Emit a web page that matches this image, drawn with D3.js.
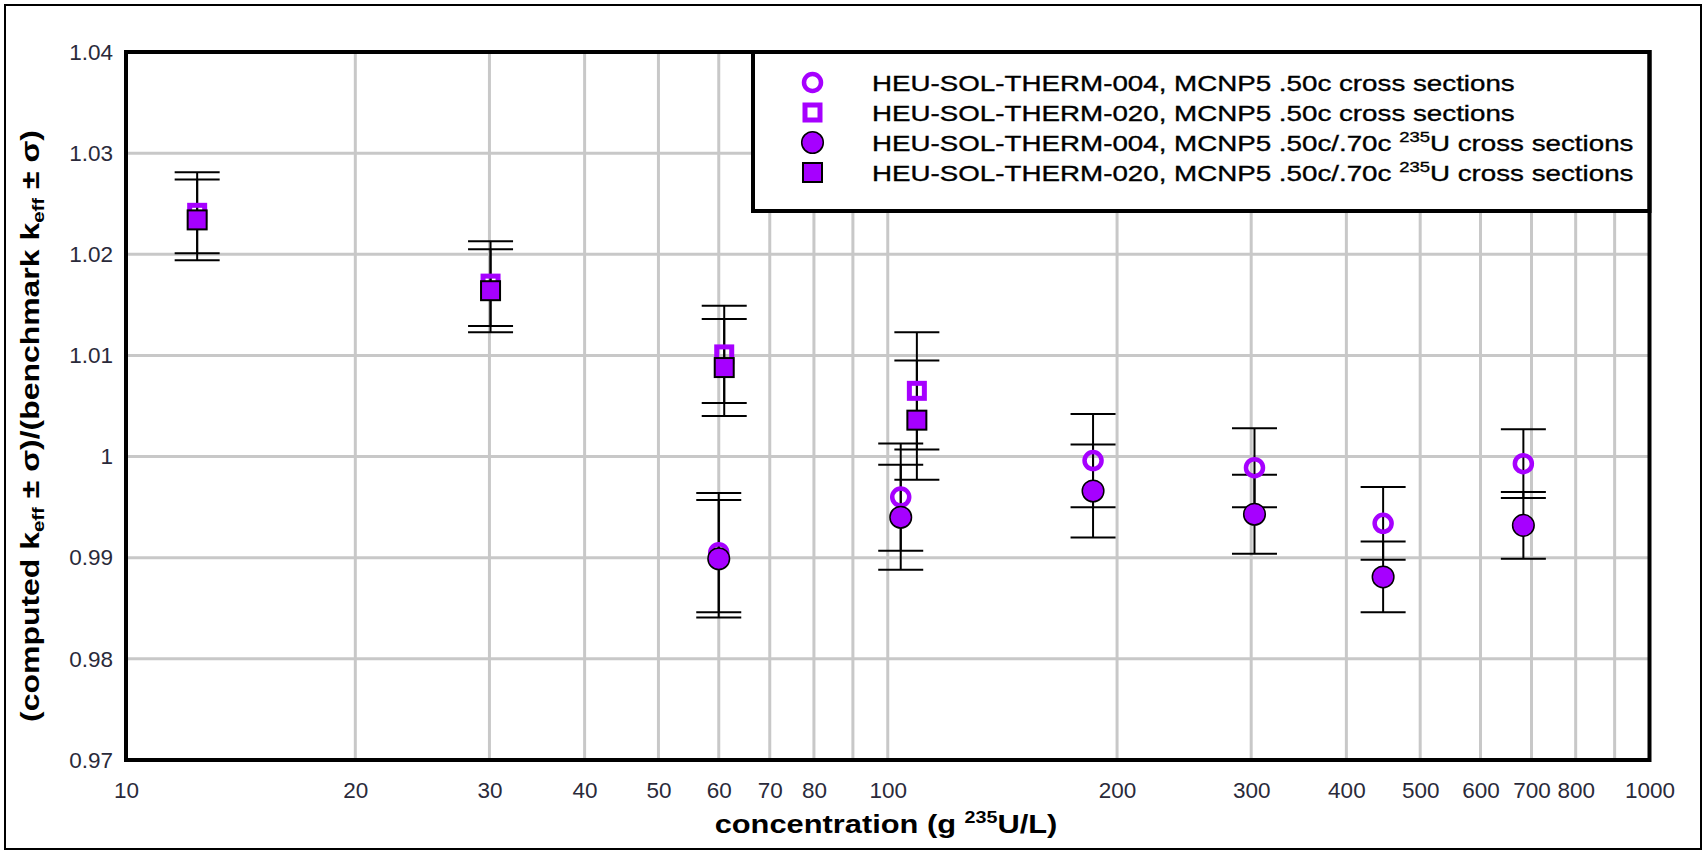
<!DOCTYPE html>
<html>
<head>
<meta charset="utf-8">
<script src="https://cdn.jsdelivr.net/npm/d3@7"></script>
<style>
  body { margin: 0; background: #fff; }
  svg { display: block; font-family: "Liberation Sans", Arial, sans-serif; }
</style>
</head>
<body>
<svg id="chart" width="1705" height="853"></svg>
<script>
// Concentrations (g 235U/L) of the benchmark cases
const conc004 = [60, 104, 186, 303, 447, 683];
const conc020 = [12.4, 30.1, 61.0, 109.2];

// keff ratio and its uncertainty, per series
const keff004_50c = [0.9905, 0.9960, 0.9996, 0.9989, 0.9934, 0.9993];
const sig004_50c  = [0.0059, 0.0053, 0.0046, 0.0039, 0.0036, 0.0034];
const keff020_50c = [1.0241, 1.0171, 1.0101, 1.0065];
const sig020_50c  = [0.0040, 0.0042, 0.0048, 0.0058];
const keff004_70c = [0.9899, 0.9940, 0.9966, 0.9943, 0.9881, 0.9932];
const sig004_70c  = [0.0058, 0.0052, 0.0046, 0.0039, 0.0035, 0.0033];
const keff020_70c = [1.0234, 1.0164, 1.0088, 1.0036];
const sig020_70c  = [0.0040, 0.0041, 0.0048, 0.0059];

// Axis ticks
const xTickValues = [10, 20, 30, 40, 50, 60, 70, 80, 100, 200, 300, 400, 500, 600, 700, 800, 1000];
const xGridValues = [20, 30, 40, 50, 60, 70, 80, 90, 100, 200, 300, 400, 500, 600, 700, 800, 900];
const yTickValues = [0.97, 0.98, 0.99, 1.00, 1.01, 1.02, 1.03, 1.04];

// Legend entries: [main text, superscript, tail]
const legendNames = [
  ["HEU-SOL-THERM-004, MCNP5 .50c cross sections", "", ""],
  ["HEU-SOL-THERM-020, MCNP5 .50c cross sections", "", ""],
  ["HEU-SOL-THERM-004, MCNP5 .50c/.70c ", "235", "U cross sections"],
  ["HEU-SOL-THERM-020, MCNP5 .50c/.70c ", "235", "U cross sections"]
];
const legendShapes = ["openCircle", "openSquare", "filledCircle", "filledSquare"];

const purple = "#a600ff";
const svg = d3.select("#chart");

// Outer frame of the figure
svg.append("rect").attr("x", 5).attr("y", 5).attr("width", 1696).attr("height", 844)
  .attr("fill", "none").attr("stroke", "#000").attr("stroke-width", 2);

const plot = { left: 126, right: 1649.5, top: 52, bottom: 760 };
const x = d3.scaleLog().domain([10, 1000]).range([plot.left, plot.right]);
const y = d3.scaleLinear().domain([0.97, 1.04]).range([plot.bottom, plot.top]);

// Grid
const grid = svg.append("g").attr("stroke", "#c8c8c8").attr("stroke-width", 3);
grid.selectAll("line.v").data(xGridValues).join("line").attr("class", "v")
  .attr("x1", d => x(d)).attr("x2", d => x(d)).attr("y1", plot.top).attr("y2", plot.bottom);
grid.selectAll("line.h").data(yTickValues.slice(1, -1)).join("line").attr("class", "h")
  .attr("y1", d => y(d)).attr("y2", d => y(d)).attr("x1", plot.left).attr("x2", plot.right);

// Axes (labels only)
const xAxis = svg.append("g").attr("transform", `translate(0,${plot.bottom})`)
  .call(d3.axisBottom(x).tickValues(xTickValues).tickFormat(d3.format("d")).tickSize(0).tickPadding(22));
const yAxis = svg.append("g").attr("transform", `translate(${plot.left},0)`)
  .call(d3.axisLeft(y).tickValues(yTickValues).tickFormat(d => String(+d.toFixed(2))).tickSize(0).tickPadding(13));
[xAxis, yAxis].forEach(a => {
  a.select(".domain").remove();
  a.selectAll("text").attr("font-size", 22.5).attr("fill", "#2a2a3a")
    .attr("font-family", "'Liberation Sans', Arial, sans-serif");
});

// Series definitions
const series = [
  { xs: conc004, ys: keff004_50c, sig: sig004_50c, shape: "openCircle" },
  { xs: conc020, ys: keff020_50c, sig: sig020_50c, shape: "openSquare" },
  { xs: conc004, ys: keff004_70c, sig: sig004_70c, shape: "filledCircle" },
  { xs: conc020, ys: keff020_70c, sig: sig020_70c, shape: "filledSquare" }
];

function drawMarker(g, shape, cx, cy) {
  if (shape === "openCircle") {
    g.append("circle").attr("cx", cx).attr("cy", cy).attr("r", 8.5)
      .attr("fill", "none").attr("stroke", purple).attr("stroke-width", 4.5);
  } else if (shape === "openSquare") {
    g.append("rect").attr("x", cx - 7.5).attr("y", cy - 7.5).attr("width", 15).attr("height", 15)
      .attr("fill", "none").attr("stroke", purple).attr("stroke-width", 5);
  } else if (shape === "filledCircle") {
    g.append("circle").attr("cx", cx).attr("cy", cy).attr("r", 10.8)
      .attr("fill", purple).attr("stroke", "#000").attr("stroke-width", 1.5);
  } else {
    g.append("rect").attr("x", cx - 9.5).attr("y", cy - 9.5).attr("width", 19).attr("height", 19)
      .attr("fill", purple).attr("stroke", "#000").attr("stroke-width", 2);
  }
}

// Error bars
const bars = svg.append("g").attr("stroke", "#000").attr("stroke-width", 2);
const capHalf = 22.5;
series.forEach(s => {
  s.xs.forEach((c, i) => {
    const cx = x(c), hi = y(s.ys[i] + s.sig[i]), lo = y(s.ys[i] - s.sig[i]);
    bars.append("line").attr("x1", cx).attr("x2", cx).attr("y1", hi).attr("y2", lo);
    bars.append("line").attr("x1", cx - capHalf).attr("x2", cx + capHalf).attr("y1", hi).attr("y2", hi);
    bars.append("line").attr("x1", cx - capHalf).attr("x2", cx + capHalf).attr("y1", lo).attr("y2", lo);
  });
});

// Markers: open symbols first, filled on top
const marks = svg.append("g");
series.forEach(s => {
  s.xs.forEach((c, i) => drawMarker(marks, s.shape, x(c), y(s.ys[i])));
});

// Legend
const legBox = { x: 753, y: plot.top, w: plot.right - 753, h: 211 - plot.top };
svg.append("rect").attr("x", legBox.x).attr("y", legBox.y).attr("width", legBox.w).attr("height", legBox.h)
  .attr("fill", "#fff").attr("stroke", "#000").attr("stroke-width", 4);
const leg = svg.append("g");
const rowY = [82.5, 112.5, 142.5, 172.5];
legendShapes.forEach((sh, i) => drawMarker(leg, sh, 812.5, rowY[i]));
const legTexts = legendNames.map((n, i) => {
  const t = leg.append("text").attr("font-size", 22.5).attr("fill", "#000")
    .attr("stroke", "#000").attr("stroke-width", 0.35);
  t.append("tspan").text(n[0]);
  if (n[1]) {
    t.append("tspan").attr("font-size", 15).attr("dy", -9).text(n[1]);
    t.append("tspan").attr("dy", 9).text(n[2]);
  }
  return t;
});
const legScale = 643 / legTexts[0].node().getComputedTextLength();
legTexts.forEach((t, i) => t.attr("transform", `translate(872,${rowY[i] + 8}) scale(${legScale},1)`));

// Plot frame
svg.append("rect").attr("x", plot.left).attr("y", plot.top)
  .attr("width", plot.right - plot.left).attr("height", plot.bottom - plot.top)
  .attr("fill", "none").attr("stroke", "#000").attr("stroke-width", 4);

// X axis title
const xt = svg.append("text").attr("font-size", 25).attr("font-weight", "bold").attr("text-anchor", "middle");
xt.append("tspan").text("concentration (g ");
xt.append("tspan").attr("font-size", 16).attr("dy", -10).text("235");
xt.append("tspan").attr("dy", 10).text("U/L)");
const xtScale = 343 / xt.node().getComputedTextLength();
xt.attr("transform", `translate(886,833) scale(${xtScale},1)`);

// Y axis title
const yt = svg.append("text").attr("font-size", 25).attr("font-weight", "bold").attr("text-anchor", "middle");
yt.append("tspan").text("(computed k");
yt.append("tspan").attr("font-size", 16).attr("dy", 5).text("eff");
yt.append("tspan").attr("dy", -5).text(" \u00b1 \u03c3)/(benchmark k");
yt.append("tspan").attr("font-size", 16).attr("dy", 5).text("eff");
yt.append("tspan").attr("dy", -5).text(" \u00b1 \u03c3)");
const ytScale = 592 / yt.node().getComputedTextLength();
yt.attr("transform", `translate(39,426) rotate(-90) scale(${ytScale},1)`);
</script>
</body>
</html>
